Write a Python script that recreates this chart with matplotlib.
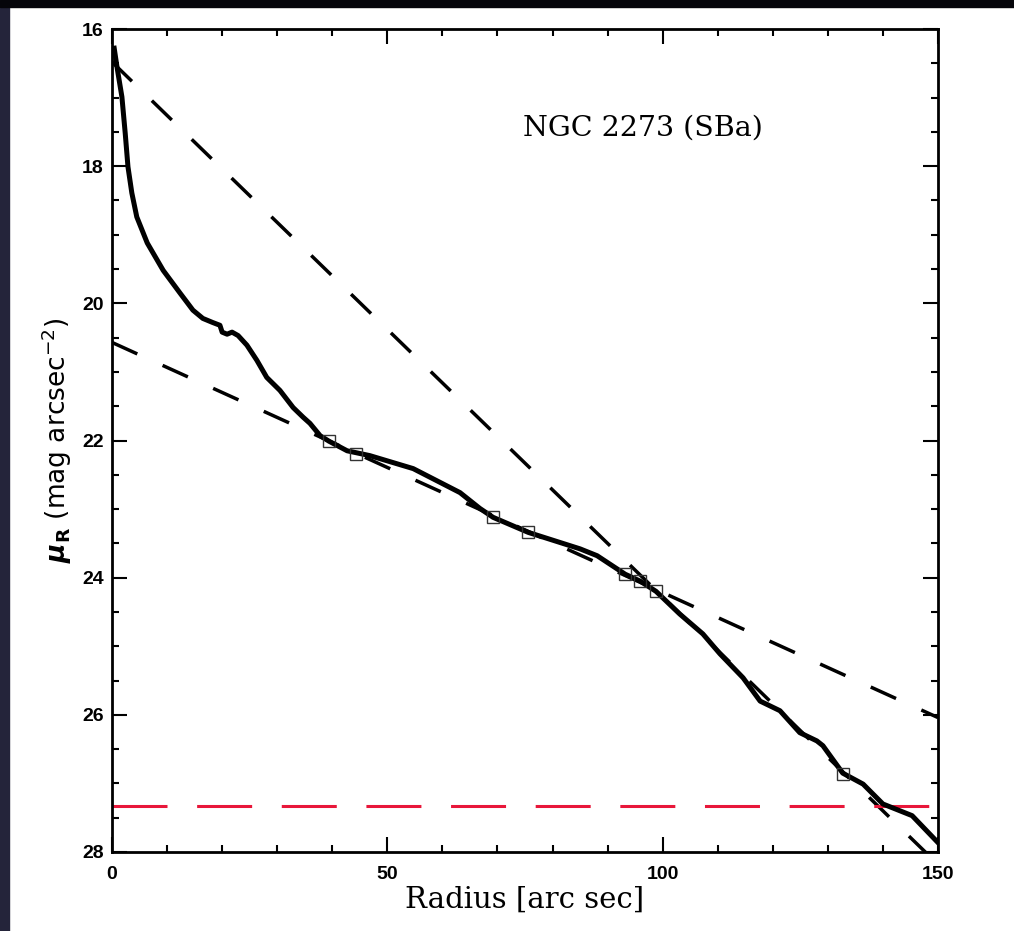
import matplotlib.pyplot as plt
from matplotlib.patches import Rectangle
from matplotlib.ticker import MultipleLocator

# surface brightness profile
radius = [0.4, 0.9, 1.8, 2.4, 2.9, 3.6, 4.5, 6.4, 9.3, 12.35, 14.7, 16.5, 18.3,
          19.6, 20.0, 20.9, 21.8, 22.9, 24.5, 26.3, 28.1, 30.5, 32.9, 34.7,
          35.95, 37.8, 39.4, 42.7, 46.8, 54.7, 63.2, 66.8, 69.2, 75.6, 85.0,
          88.1, 93.2, 95.9, 98.8, 103.1, 107.3, 110.4, 114.6, 117.7, 121.3,
          124.9, 128.0, 129.1, 132.7, 136.4, 140.0, 145.3, 150.2]
mu_r = [16.28, 16.55, 16.99, 17.52, 18.01, 18.39, 18.74, 19.12, 19.52, 19.85,
        20.10, 20.22, 20.28, 20.32, 20.42, 20.45, 20.42, 20.47, 20.61, 20.83,
        21.08, 21.27, 21.52, 21.66, 21.75, 21.93, 22.01, 22.15, 22.22, 22.41,
        22.76, 22.99, 23.12, 23.34, 23.58, 23.68, 23.95, 24.05, 24.20, 24.53,
        24.82, 25.11, 25.46, 25.80, 25.94, 26.26, 26.38, 26.45, 26.85, 27.01,
        27.30, 27.47, 27.88]

# marked points
sq_r = [39.4, 44.3, 69.2, 75.6, 93.2, 95.9, 98.8, 132.7]
sq_mu = [22.01, 22.19, 23.12, 23.34, 23.95, 24.05, 24.20, 26.86]

# fitted components (end points)
bulge_r = [0, 150]
bulge_mu = [16.48, 28.18]
disk_r = [0, 150]
disk_mu = [20.57, 26.04]

sky_mu = 27.33

fig = plt.figure(figsize=(10.14, 9.31), dpi=100, facecolor='white')
# dark frame strips at left and top
fig.patches.append(Rectangle((0, 0), 9 / 1014, 1, transform=fig.transFigure,
                             color='#24243a', zorder=-1))
fig.patches.append(Rectangle((0, 1 - 7 / 931), 1, 7 / 931, transform=fig.transFigure,
                             color='#05050a', zorder=-1))

ax = fig.add_axes([112 / 1014, 1 - 852 / 931, 826 / 1014, 823 / 931])

ax.plot(radius, mu_r, color='black', lw=3.6, solid_joinstyle='round', zorder=3)
ax.plot(bulge_r, bulge_mu, color='black', lw=2.5, dashes=(8, 8))
ax.plot(disk_r, disk_mu, color='black', lw=2.5, dashes=(8, 8))
ax.axhline(sky_mu, color='#e8173a', lw=2.2, dashes=(18, 9.7))
ax.plot(sq_r, sq_mu, ls='none', marker='s', ms=8.6, mfc='none', mec='#333333',
        mew=1.0, zorder=4)

ax.set_xlim(0, 150)
ax.set_ylim(28, 16)
ax.xaxis.set_major_locator(MultipleLocator(50))
ax.xaxis.set_minor_locator(MultipleLocator(10))
ax.yaxis.set_major_locator(MultipleLocator(2))
ax.yaxis.set_minor_locator(MultipleLocator(0.5))

ax.tick_params(which='both', direction='in', top=True, right=True, width=1.5,
               color='black')
ax.tick_params(which='major', length=10.8)
ax.tick_params(which='minor', length=5.3)
ax.tick_params(axis='x', pad=10)
ax.tick_params(axis='y', pad=6)
for lab in ax.get_xticklabels() + ax.get_yticklabels():
    lab.set_fontfamily('Liberation Sans')
    lab.set_fontweight('bold')
    lab.set_fontsize(14)
for s in ax.spines.values():
    s.set_linewidth(2)

ax.set_xlabel('Radius [arc sec]', family='DejaVu Serif', fontsize=21, labelpad=2)
ax.set_ylabel(r'$\boldsymbol{\mu}_{\mathbf{R}}$ (mag arcsec$^{-2}$)', fontsize=19,
              labelpad=6)
ax.text(0.498, 0.879, 'NGC 2273 (SBa)', transform=ax.transAxes, family='DejaVu Serif',
        fontsize=20.5, ha='left', va='center')

fig.savefig('out.png', dpi=100, facecolor='white')
